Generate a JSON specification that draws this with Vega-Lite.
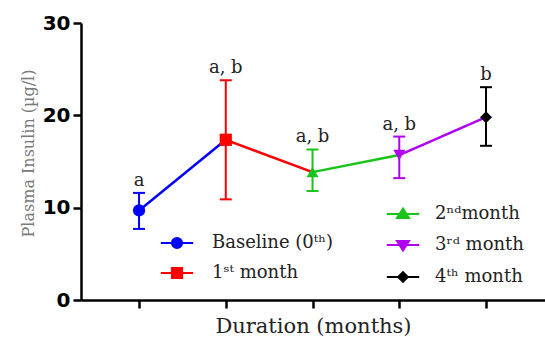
{
  "$schema": "https://vega.github.io/schema/vega-lite/v6.json",
  "width": 464,
  "height": 277,
  "autosize": "none",
  "padding": {"left": 81, "top": 23, "right": 0, "bottom": 37},
  "config": {
    "view": {"stroke": null},
    "font": "DejaVu Serif",
    "axis": {"grid": false, "domainColor": "#000", "domainWidth": 2.5, "tickColor": "#000", "tickWidth": 2.5, "tickSize": 8},
    "axisY": {"labelFont": "DejaVu Sans", "labelFontWeight": "bold", "labelFontSize": 20, "labelColor": "#000", "labelPadding": 3, "titleFont": "DejaVu Serif", "titleFontSize": 16, "titleFontWeight": "normal", "titleColor": "#7a7a7a", "titlePadding": 6, "titleY": 130, "tickCount": 4},
    "axisX": {"labels": false, "titleFont": "DejaVu Serif", "titleFontSize": 21, "titleFontWeight": "normal", "titleColor": "#222", "titlePadding": 6, "tickCount": 5},
    "legend": {"title": null, "orient": "none", "padding": 0, "labelFont": "DejaVu Serif", "labelFontSize": 18, "labelColor": "#222", "labelLimit": 300, "symbolSize": 144, "symbolStrokeWidth": 2, "symbolOpacity": 1}
  },
  "datasets": {
    "insulin": [
      {"idx": 0, "label": "Baseline (0ᵗʰ)", "group": "A", "mean": 9.7, "lo": 7.7, "hi": 11.6, "sig": "a"},
      {"idx": 1, "label": "1ˢᵗ month", "group": "A", "mean": 17.35, "lo": 10.9, "hi": 23.8, "sig": "a, b"},
      {"idx": 2, "label": "2ⁿᵈmonth", "group": "B", "mean": 13.85, "lo": 11.8, "hi": 16.3, "sig": "a, b"},
      {"idx": 3, "label": "3ʳᵈ month", "group": "B", "mean": 15.7, "lo": 13.2, "hi": 17.7, "sig": "a, b"},
      {"idx": 4, "label": "4ᵗʰ month", "group": "B", "mean": 19.8, "lo": 16.7, "hi": 23.05, "sig": "b"}
    ]
  },
  "data": {"name": "insulin"},
  "encoding": {
    "x": {"field": "idx", "type": "quantitative", "scale": {"domain": [-0.669, 4.68], "nice": false, "zero": false}, "title": "Duration (months)"},
    "y": {"field": "mean", "type": "quantitative", "scale": {"domain": [0, 30], "nice": false}, "title": "Plasma Insulin (µg/l)"}
  },
  "layer": [
    {
      "encoding": {
        "color": {"field": "label", "type": "nominal", "scale": {"domain": ["Baseline (0ᵗʰ)", "1ˢᵗ month"], "range": ["#0000ff", "#ff0000"]}, "legend": null}
      },
      "layer": [
        {
          "transform": [
            {"window": [{"op": "lead", "field": "mean", "as": "next_mean"}, {"op": "lead", "field": "idx", "as": "next_idx"}], "sort": [{"field": "idx"}]},
            {"filter": "datum.group === 'A' && datum.next_idx != null"}
          ],
          "mark": {"type": "rule", "strokeWidth": 2.5},
          "encoding": {"x2": {"field": "next_idx"}, "y2": {"field": "next_mean"}}
        },
        {
          "transform": [{"filter": "datum.group === 'A'"}],
          "mark": {"type": "rule", "strokeWidth": 2},
          "encoding": {"y": {"field": "lo", "type": "quantitative", "title": "Plasma Insulin (µg/l)"}, "y2": {"field": "hi"}}
        },
        {
          "transform": [{"filter": "datum.group === 'A'"}],
          "mark": {"type": "tick", "orient": "horizontal", "size": 12, "thickness": 2, "opacity": 1},
          "encoding": {"y": {"field": "lo", "type": "quantitative", "title": "Plasma Insulin (µg/l)"}}
        },
        {
          "transform": [{"filter": "datum.group === 'A'"}],
          "mark": {"type": "tick", "orient": "horizontal", "size": 12, "thickness": 2, "opacity": 1},
          "encoding": {"y": {"field": "hi", "type": "quantitative", "title": "Plasma Insulin (µg/l)"}}
        },
        {
          "transform": [{"filter": "datum.group === 'A'"}],
          "mark": {"type": "point", "filled": true, "opacity": 1, "size": 150},
          "encoding": {
            "shape": {"field": "label", "type": "nominal", "scale": {"domain": ["Baseline (0ᵗʰ)", "1ˢᵗ month"], "range": ["circle", "square"]}, "legend": null}
          }
        }
      ]
    },
    {
      "encoding": {
        "color": {"field": "label", "type": "nominal", "scale": {"domain": ["2ⁿᵈmonth", "3ʳᵈ month", "4ᵗʰ month"], "range": ["#18c418", "#b000f0", "#000000"]}, "legend": null}
      },
      "layer": [
        {
          "transform": [
            {"window": [{"op": "lead", "field": "mean", "as": "next_mean"}, {"op": "lead", "field": "idx", "as": "next_idx"}], "sort": [{"field": "idx"}]},
            {"filter": "datum.group === 'B' && datum.next_idx != null"}
          ],
          "mark": {"type": "rule", "strokeWidth": 2.5},
          "encoding": {"x2": {"field": "next_idx"}, "y2": {"field": "next_mean"}}
        },
        {
          "transform": [{"filter": "datum.group === 'B'"}],
          "mark": {"type": "rule", "strokeWidth": 2},
          "encoding": {"y": {"field": "lo", "type": "quantitative", "title": "Plasma Insulin (µg/l)"}, "y2": {"field": "hi"}}
        },
        {
          "transform": [{"filter": "datum.group === 'B'"}],
          "mark": {"type": "tick", "orient": "horizontal", "size": 12, "thickness": 2, "opacity": 1},
          "encoding": {"y": {"field": "lo", "type": "quantitative", "title": "Plasma Insulin (µg/l)"}}
        },
        {
          "transform": [{"filter": "datum.group === 'B'"}],
          "mark": {"type": "tick", "orient": "horizontal", "size": 12, "thickness": 2, "opacity": 1},
          "encoding": {"y": {"field": "hi", "type": "quantitative", "title": "Plasma Insulin (µg/l)"}}
        },
        {
          "transform": [{"filter": "datum.group === 'B'"}],
          "mark": {"type": "point", "filled": true, "opacity": 1, "size": 144},
          "encoding": {
            "shape": {"field": "label", "type": "nominal", "scale": {"domain": ["2ⁿᵈmonth", "3ʳᵈ month", "4ᵗʰ month"], "range": ["triangle-up", "triangle-down", "diamond"]}, "legend": null}
          }
        }
      ]
    },
    {
      "transform": [{"filter": "datum.group === 'A'"}],
      "mark": {"type": "point", "opacity": 0, "strokeWidth": 2},
      "encoding": {
        "shape": {"field": "label", "type": "nominal", "scale": {"domain": ["Baseline (0ᵗʰ)", "1ˢᵗ month"], "range": ["M-2.7,0H2.7M0.85,0A0.85,0.85,0,1,1,-0.85,0A0.85,0.85,0,1,1,0.85,0Z", "M-2.7,0H2.7M-0.85,-0.85H0.85V0.85H-0.85Z"]}, "legend": {"legendX": 87, "legendY": 211, "labelOffset": 26, "rowPadding": 10}},
        "fill": {"field": "label", "type": "nominal", "scale": {"domain": ["Baseline (0ᵗʰ)", "1ˢᵗ month"], "range": ["#0000ff", "#ff0000"]}, "legend": {"legendX": 87, "legendY": 211, "labelOffset": 26, "rowPadding": 10}},
        "stroke": {"field": "label", "type": "nominal", "scale": {"domain": ["Baseline (0ᵗʰ)", "1ˢᵗ month"], "range": ["#0000ff", "#ff0000"]}, "legend": {"legendX": 87, "legendY": 211, "labelOffset": 26, "rowPadding": 10}}
      }
    },
    {
      "transform": [{"filter": "datum.group === 'B'"}],
      "mark": {"type": "point", "opacity": 0, "strokeWidth": 2},
      "encoding": {
        "shape": {"field": "label", "type": "nominal", "scale": {"domain": ["2ⁿᵈmonth", "3ʳᵈ month", "4ᵗʰ month"], "range": ["M-2.7,0H2.7M0,-0.9L1,0.65L-1,0.65Z", "M-2.7,0H2.7M0,0.9L1,-0.65L-1,-0.65Z", "M-2.7,0H2.7M-0.8,0L0,-0.8L0.8,0L0,0.8Z"]}, "legend": {"legendX": 313, "legendY": 182, "labelOffset": 23, "rowPadding": 13}},
        "fill": {"field": "label", "type": "nominal", "scale": {"domain": ["2ⁿᵈmonth", "3ʳᵈ month", "4ᵗʰ month"], "range": ["#18c418", "#b000f0", "#000000"]}, "legend": {"legendX": 313, "legendY": 182, "labelOffset": 23, "rowPadding": 13}},
        "stroke": {"field": "label", "type": "nominal", "scale": {"domain": ["2ⁿᵈmonth", "3ʳᵈ month", "4ᵗʰ month"], "range": ["#18c418", "#b000f0", "#000000"]}, "legend": {"legendX": 313, "legendY": 182, "labelOffset": 23, "rowPadding": 13}}
      }
    },
    {
      "mark": {"type": "text", "font": "DejaVu Serif", "fontSize": 18, "baseline": "alphabetic", "dy": -7, "color": "#222"},
      "encoding": {
        "y": {"field": "hi", "type": "quantitative", "title": "Plasma Insulin (µg/l)"},
        "text": {"field": "sig", "type": "nominal"}
      }
    }
  ],
  "resolve": {"scale": {"color": "independent", "shape": "independent", "fill": "independent", "stroke": "independent"}}
}
